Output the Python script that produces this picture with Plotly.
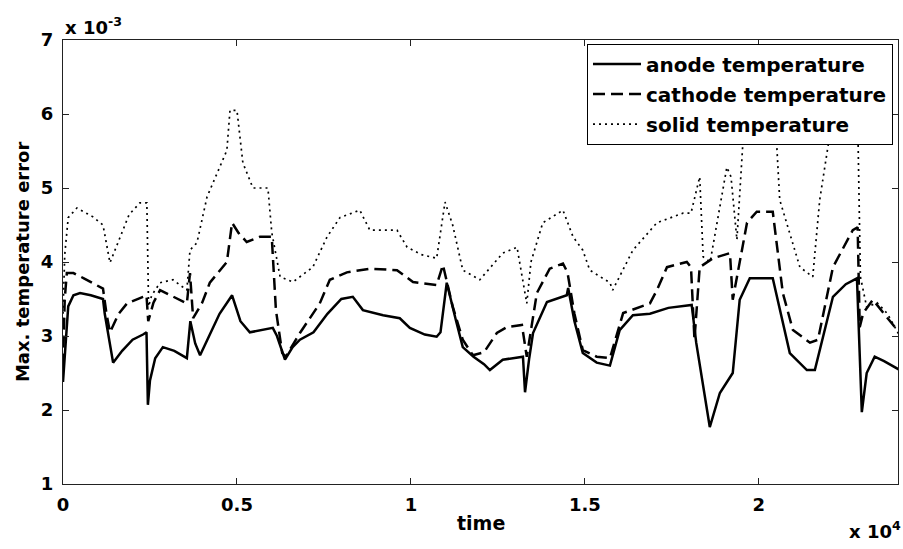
import plotly.graph_objects as go

# time in units of 1e4 s, error in units of 1e-3
anode_t = [0.000, 0.008, 0.015, 0.030, 0.049, 0.080, 0.115, 0.120, 0.135, 0.144, 0.170, 0.200, 0.230, 0.240,
           0.244, 0.250, 0.265, 0.287, 0.320, 0.356, 0.366, 0.380, 0.394, 0.420, 0.450, 0.486, 0.510, 0.537,
           0.570, 0.603, 0.615, 0.638, 0.660, 0.681, 0.720, 0.760, 0.800, 0.833, 0.862, 0.920, 0.968, 0.997,
           1.040, 1.074, 1.085, 1.103, 1.130, 1.149, 1.180, 1.210, 1.227, 1.264, 1.322, 1.328, 1.340, 1.351,
           1.391, 1.448, 1.452, 1.470, 1.494, 1.534, 1.572, 1.600, 1.638, 1.687, 1.740, 1.807, 1.820, 1.859,
           1.888, 1.925, 1.945, 1.974, 2.040, 2.089, 2.138, 2.161, 2.213, 2.250, 2.282, 2.296, 2.310, 2.333,
           2.360, 2.405]
anode_err = [2.38, 2.90, 3.40, 3.55, 3.58, 3.55, 3.50, 3.30, 2.90, 2.64, 2.80, 2.95, 3.02, 3.05,
             2.07, 2.40, 2.70, 2.85, 2.80, 2.70, 3.20, 2.90, 2.74, 3.00, 3.30, 3.55, 3.20, 3.05,
             3.08, 3.11, 3.00, 2.68, 2.85, 2.95, 3.05, 3.30, 3.50, 3.53, 3.35, 3.28, 3.24, 3.11,
             3.02, 2.99, 3.05, 3.72, 3.20, 2.85, 2.72, 2.62, 2.54, 2.68, 2.72, 2.24, 2.70, 3.04,
             3.46, 3.55, 3.65, 3.20, 2.77, 2.64, 2.60, 3.08, 3.28, 3.30, 3.38, 3.42, 2.91, 1.77,
             2.23, 2.50, 3.49, 3.78, 3.78, 2.77, 2.54, 2.54, 3.53, 3.70, 3.78, 1.97, 2.50, 2.72,
             2.66, 2.54]

cathode_t = [0.000, 0.005, 0.011, 0.030, 0.060, 0.115, 0.125, 0.135, 0.160, 0.184, 0.230, 0.240, 0.245,
             0.260, 0.279, 0.320, 0.356, 0.365, 0.374, 0.400, 0.422, 0.471, 0.486, 0.505, 0.528, 0.566,
             0.600, 0.612, 0.630, 0.640, 0.681, 0.738, 0.767, 0.816, 0.882, 0.960, 1.006, 1.074, 1.092,
             1.120, 1.149, 1.178, 1.210, 1.247, 1.276, 1.319, 1.333, 1.362, 1.399, 1.437, 1.450, 1.470,
             1.494, 1.534, 1.572, 1.610, 1.687, 1.707, 1.736, 1.793, 1.805, 1.815, 1.830, 1.868, 1.917,
             1.925, 1.966, 1.994, 2.040, 2.069, 2.098, 2.147, 2.170, 2.213, 2.270, 2.284, 2.290, 2.300,
             2.328, 2.360, 2.405]
cathode_err = [2.60, 3.50, 3.85, 3.85, 3.78, 3.64, 3.30, 3.05, 3.30, 3.44, 3.53, 3.55, 3.20,
               3.45, 3.62, 3.52, 3.44, 3.85, 3.24, 3.45, 3.72, 4.00, 4.53, 4.39, 4.27, 4.34,
               4.34, 3.35, 2.77, 2.72, 3.04, 3.44, 3.76, 3.86, 3.91, 3.89, 3.73, 3.69, 3.96,
               3.40, 2.95, 2.74, 2.78, 3.04, 3.12, 3.15, 2.72, 3.58, 3.91, 3.98, 3.86, 3.30,
               2.81, 2.72, 2.70, 3.31, 3.44, 3.62, 3.93, 4.00, 3.93, 2.95, 3.93, 4.05, 4.12,
               3.49, 4.53, 4.68, 4.68, 3.58, 3.08, 2.91, 2.95, 3.93, 4.43, 4.47, 3.12, 3.31,
               3.49, 3.30, 3.04]

solid_t = [0.000, 0.005, 0.015, 0.040, 0.086, 0.115, 0.135, 0.164, 0.190, 0.221, 0.241, 0.246, 0.255,
           0.279, 0.316, 0.356, 0.365, 0.385, 0.414, 0.443, 0.471, 0.480, 0.500, 0.517, 0.546, 0.589,
           0.600, 0.624, 0.661, 0.718, 0.759, 0.796, 0.853, 0.882, 0.960, 0.989, 1.030, 1.074, 1.098,
           1.120, 1.149, 1.198, 1.264, 1.305, 1.333, 1.345, 1.379, 1.437, 1.466, 1.494, 1.514, 1.572,
           1.580, 1.638, 1.707, 1.782, 1.805, 1.830, 1.840, 1.860, 1.908, 1.920, 1.937, 1.954, 1.990,
           2.050, 2.060, 2.118, 2.155, 2.175, 2.200, 2.240, 2.285, 2.292, 2.310, 2.340, 2.370, 2.405]
solid_err = [3.30, 4.10, 4.60, 4.73, 4.61, 4.50, 3.99, 4.34, 4.64, 4.80, 4.80, 3.40, 3.55,
             3.72, 3.76, 3.62, 4.16, 4.26, 4.88, 5.20, 5.51, 6.05, 6.05, 5.34, 5.00, 5.00,
             4.40, 3.80, 3.73, 3.93, 4.34, 4.60, 4.70, 4.43, 4.43, 4.20, 4.10, 4.05, 4.81,
             4.50, 3.89, 3.76, 4.12, 4.20, 3.44, 4.00, 4.53, 4.70, 4.34, 4.16, 3.89, 3.72,
             3.62, 4.16, 4.53, 4.66, 4.66, 5.15, 4.07, 4.00, 5.28, 5.15, 4.30, 5.60, 6.30,
             5.70, 4.84, 3.93, 3.80, 4.84, 5.60, 6.40, 5.70, 3.80, 3.39, 3.45, 3.30, 3.00]

x_ticks = [0, 0.5, 1, 1.5, 2]
x_tick_labels = ["0", "0.5", "1", "1.5", "2"]
y_ticks = [1, 2, 3, 4, 5, 6, 7]
y_tick_labels = ["1", "2", "3", "4", "5", "6", "7"]

T_SCALE = 1e4
E_SCALE = 1e-3

FONT = dict(family="DejaVu Sans", size=18, color="black", weight="bold")

fig = go.Figure()
fig.add_trace(go.Scatter(x=[t * T_SCALE for t in anode_t], y=[e * E_SCALE for e in anode_err],
                         mode="lines", name="anode temperature", legendgroup="a",
                         line=dict(color="black", width=2.5)))
fig.add_trace(go.Scatter(x=[t * T_SCALE for t in cathode_t], y=[e * E_SCALE for e in cathode_err],
                         mode="lines", name="cathode temperature", legendgroup="c",
                         line=dict(color="black", width=2.5, dash="12px,6px")))
fig.add_trace(go.Scatter(x=[t * T_SCALE for t in solid_t], y=[e * E_SCALE for e in solid_err],
                         mode="lines", name="solid temperature", legendgroup="s",
                         line=dict(color="black", width=1.7, dash="2px,4px")))

axis_common = dict(showgrid=False, zeroline=False, showline=True, linecolor="#222", linewidth=1,
                   mirror="ticks", ticks="inside", ticklen=6, tickcolor="#222", tickfont=FONT)

fig.update_xaxes(range=[0, 2.4 * T_SCALE], tickvals=[v * T_SCALE for v in x_ticks],
                 ticktext=x_tick_labels, ticklabelstandoff=4, **axis_common)
fig.update_yaxes(range=[1 * E_SCALE, 7 * E_SCALE], tickvals=[v * E_SCALE for v in y_ticks],
                 ticktext=y_tick_labels, ticklabelstandoff=5, **axis_common)

fig.update_layout(
    width=903, height=549,
    margin=dict(l=63, r=5, t=40, b=65),
    paper_bgcolor="white", plot_bgcolor="white",
    font=FONT,
    showlegend=True,
    legend=dict(x=0.994, xanchor="right", y=0.992, yanchor="top",
                bgcolor="white", bordercolor="black", borderwidth=1,
                font=dict(family="DejaVu Sans", size=20, color="black", weight="bold"),
                tracegroupgap=1, itemwidth=48),
    annotations=[
        dict(text="time", xref="paper", yref="paper", x=0.5, y=-0.088, xanchor="center", yanchor="middle",
             showarrow=False, font=dict(family="DejaVu Sans", size=19, color="black", weight="bold")),
        dict(text="Max. temperature error", xref="paper", yref="paper", x=-0.049, y=0.5,
             xanchor="center", yanchor="middle", textangle=-90, showarrow=False,
             font=dict(family="DejaVu Sans", size=18, color="black", weight="bold")),
        dict(text="x 10<sup>-3</sup>", xref="paper", yref="paper", x=0.0, y=1.0, xanchor="left",
             yanchor="bottom", showarrow=False,
             font=dict(family="DejaVu Sans", size=18, color="black", weight="bold")),
        dict(text="x 10<sup>4</sup>", xref="paper", yref="paper", x=1.006, y=-0.104, xanchor="right",
             yanchor="middle", showarrow=False,
             font=dict(family="DejaVu Sans", size=18, color="black", weight="bold")),
    ],
)

fig.write_html("out.html", config={"displayModeBar": False},
               post_script="document.body.style.margin='0';document.body.style.overflow='hidden';")
